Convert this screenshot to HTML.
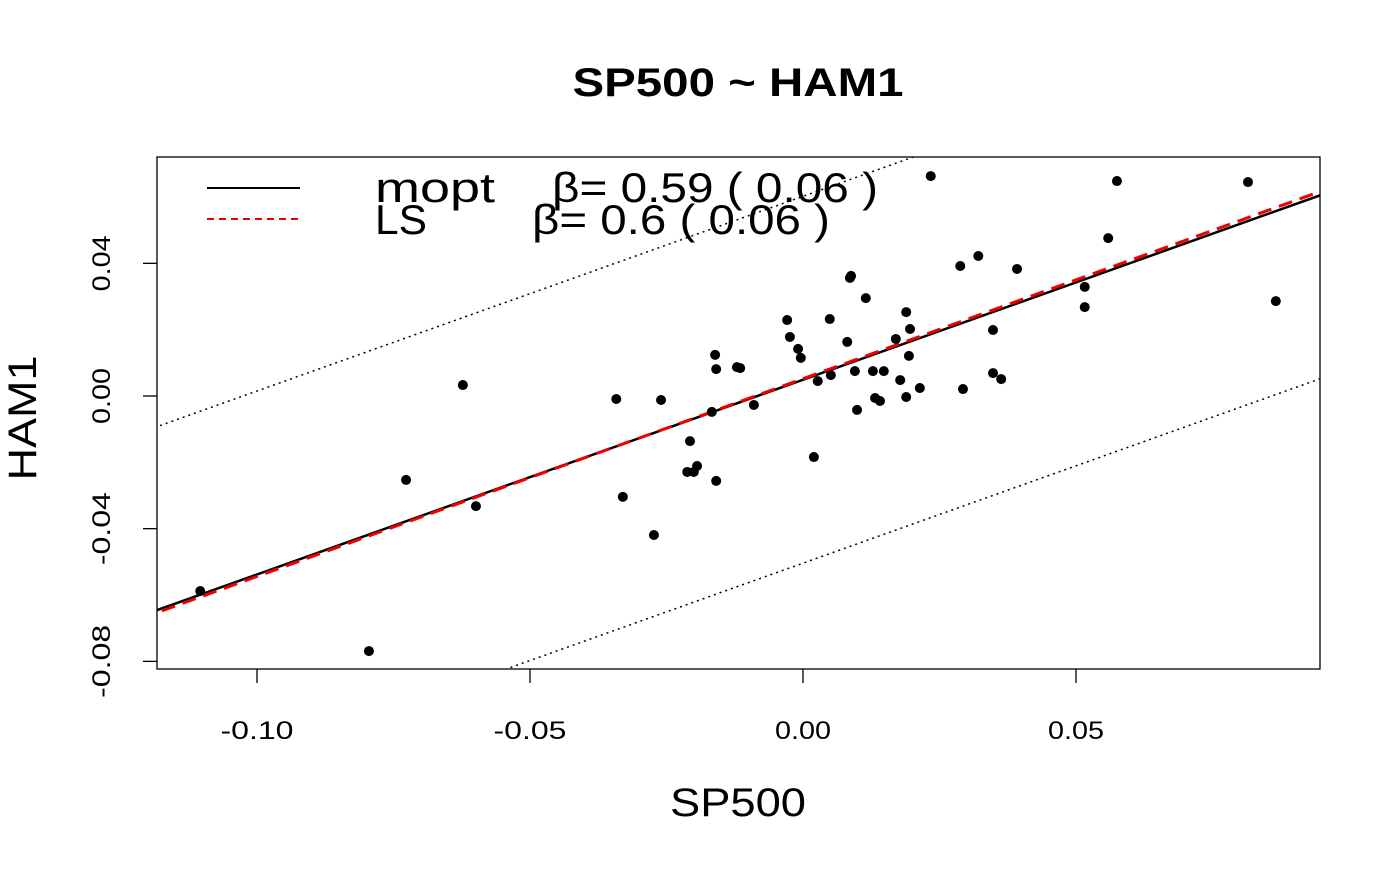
<!DOCTYPE html>
<html><head><meta charset="utf-8"><style>
body{margin:0;background:#fff}
svg text{font-family:"Liberation Sans","DejaVu Sans",sans-serif}
</style></head><body>
<svg id="chart" width="1400" height="866" xmlns="http://www.w3.org/2000/svg">
<text x="738" y="96" text-anchor="middle" font-size="40" font-weight="bold" textLength="331" lengthAdjust="spacingAndGlyphs">SP500 ~ HAM1</text>
<rect x="157" y="157" width="1163" height="512" fill="none" stroke="#000" stroke-width="1.3"/>
<defs><clipPath id="clip"><rect x="157" y="157" width="1163" height="512"/></clipPath></defs>
<g id="xaxis"></g>
<g id="yaxis"></g>
<g id="lines" clip-path="url(#clip)"></g>
<g id="pts"></g>
<text x="738" y="816" text-anchor="middle" font-size="40" textLength="136" lengthAdjust="spacingAndGlyphs">SP500</text>
<text transform="translate(36,418) rotate(-90)" text-anchor="middle" font-size="40" textLength="125" lengthAdjust="spacingAndGlyphs">HAM1</text>
<g>
<line x1="207" y1="188" x2="300" y2="188" stroke="#000" stroke-width="2"/>
<line x1="207" y1="219" x2="300" y2="219" stroke="#e00" stroke-width="2" stroke-dasharray="7,5"/>
<text x="375" y="202" font-size="42" textLength="120" lengthAdjust="spacingAndGlyphs">mopt</text>
<text x="375" y="234" font-size="42" textLength="52" lengthAdjust="spacingAndGlyphs">LS</text>
<text x="552" y="202" font-size="42" textLength="326" lengthAdjust="spacingAndGlyphs">β= 0.59 ( 0.06 )</text>
<text x="532" y="234" font-size="42" textLength="298" lengthAdjust="spacingAndGlyphs">β= 0.6 ( 0.06 )</text>
</g>
</svg>
<script>
const xs=[-0.1104,-0.0795,-0.0727,-0.0623,-0.0599,-0.0342,-0.0330,-0.0273,-0.0260,-0.0212,-0.0200,-0.0207,-0.0194,-0.0167,-0.0161,-0.0159,-0.0159,-0.0121,-0.0115,-0.0090,-0.0029,-0.0024,-0.0009,-0.0004,0.0020,0.0027,0.0049,0.0051,0.0081,0.0086,0.0088,0.0095,0.0099,0.0115,0.0128,0.0132,0.0141,0.0148,0.0170,0.0178,0.0189,0.0189,0.0196,0.0194,0.0214,0.0234,0.0288,0.0293,0.0321,0.0348,0.0348,0.0363,0.0392,0.0516,0.0516,0.0559,0.0575,0.0815,0.0866];
const ys=[-0.0588,-0.0769,-0.0253,0.0033,-0.0332,-0.0009,-0.0304,-0.0419,-0.0012,-0.0229,-0.0229,-0.0136,-0.0211,-0.0048,0.0124,0.0081,-0.0256,0.0087,0.0084,-0.0027,0.0229,0.0178,0.0142,0.0115,-0.0184,0.0045,0.0232,0.0063,0.0163,0.0356,0.0362,0.0075,-0.0042,0.0295,0.0075,-0.0006,-0.0015,0.0075,0.0172,0.0048,0.0253,-0.0003,0.0202,0.0121,0.0024,0.0663,0.0392,0.0021,0.0422,0.0199,0.0069,0.0051,0.0383,0.0329,0.0268,0.0476,0.0648,0.0645,0.0286];
const xTicks=[-0.10,-0.05,0.00,0.05];
const xTickLabels=["-0.10","-0.05","0.00","0.05"];
const yTicks=[-0.08,-0.04,0.00,0.04];
const yTickLabels=["-0.08","-0.04","0.00","0.04"];
const moptFit=[0.0049,0.587];
const lsFit=[0.0052,0.596];
const band=[0.0553];
const X=v=>803+v*5460, Y=v=>396-v*3317;
const NS="http://www.w3.org/2000/svg";
function mk(t,a,p){const e=document.createElementNS(NS,t);for(const k in a)e.setAttribute(k,a[k]);p.appendChild(e);return e;}
const xa=document.getElementById('xaxis'),ya=document.getElementById('yaxis');
xTicks.forEach((v,i)=>{
 const l=mk('line',{x1:X(v),x2:X(v),y1:669,y2:683,stroke:'#000','stroke-width':1.3},xa);
 
 
 const t=mk('text',{x:X(v),y:739,'text-anchor':'middle','font-size':25,textLength:xTickLabels[i].length>4?73:56,lengthAdjust:'spacingAndGlyphs'},xa);t.textContent=xTickLabels[i];
 
 
});
yTicks.forEach((v,i)=>{
 const l=mk('line',{x1:143,x2:157,y1:Y(v),y2:Y(v),stroke:'#000','stroke-width':1.3},ya);
 
 
 const t=mk('text',{transform:`translate(110,${Y(v)}) rotate(-90)`,'text-anchor':'middle','font-size':25,textLength:yTickLabels[i].length>4?73:56,lengthAdjust:'spacingAndGlyphs'},ya);t.textContent=yTickLabels[i];
 
 
});
const lg=document.getElementById('lines');
const x0=-0.125,x1=0.1;
function ln(a,b,attrs,name){const e=mk('line',Object.assign({x1:X(x0),y1:Y(a+b*x0),x2:X(x1),y2:Y(a+b*x1)},attrs),lg);
 
 }
ln(moptFit[0]+band[0],moptFit[1],{stroke:'#000','stroke-width':1.5,'stroke-dasharray':'2,4'},'upper-band-line');
ln(moptFit[0]-band[0],moptFit[1],{stroke:'#000','stroke-width':1.5,'stroke-dasharray':'2,4'},'lower-band-line');
ln(moptFit[0],moptFit[1],{stroke:'#000','stroke-width':2.5},'mopt-fit-line');
ln(lsFit[0],lsFit[1],{stroke:'#e00','stroke-width':3,'stroke-dasharray':'14,8'},'ls-fit-line');
const pg=document.getElementById('pts');
xs.forEach((v,i)=>{const c=mk('circle',{cx:X(v),cy:Y(ys[i]),r:5,fill:'#000'},pg);
 
 });
</script>
</body></html>
